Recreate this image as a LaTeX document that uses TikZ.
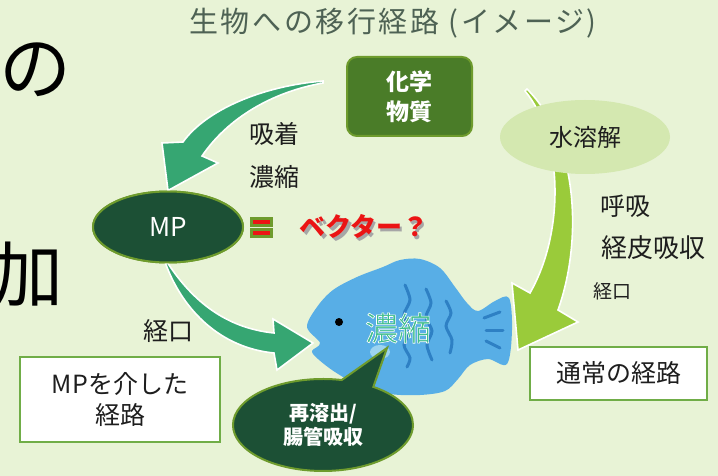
\documentclass[tikz,border=0pt]{standalone}
\usepackage{fontspec}
\setmainfont{Noto Sans CJK JP}
\usetikzlibrary{shapes.geometric,shapes.callouts}

\definecolor{bg}{RGB}{232,243,214}
\definecolor{titlegray}{RGB}{78,98,84}
\definecolor{olivebox}{RGB}{74,124,40}
\definecolor{oliveline}{RGB}{110,155,45}
\definecolor{darkgreen}{RGB}{28,80,53}
\definecolor{palegreen}{RGB}{212,232,176}
\definecolor{frame}{RGB}{112,173,71}
\definecolor{tealarrow}{RGB}{54,166,114}
\definecolor{limearrow}{RGB}{154,203,58}
\definecolor{fishblue}{RGB}{88,174,230}
\definecolor{stripe}{RGB}{46,128,196}
\definecolor{glow}{RGB}{156,212,240}
\definecolor{ink}{RGB}{30,30,30}
\definecolor{conc}{RGB}{64,190,140}
\definecolor{vecred}{RGB}{235,20,20}

\newcommand{\fsz}[1]{\fontsize{#1}{#1}\selectfont}
% glyphs filled in the current colour and stroked in white
\newcommand{\whiteedge}[1]{\special{pdf:code q 2 Tr 0.6 w 1 1 1 RG}#1\special{pdf:code Q}}
% text with a soft grey drop shadow behind it
\newcommand{\dropshadow}[1]{\makebox[0pt][l]{\hspace{2.5pt}\raisebox{-2.5pt}{\color{black!35}#1}}#1}

\begin{document}
\begin{tikzpicture}[x=1pt,y=-1pt,
  lbl/.style={text=ink, inner sep=0pt, font=\fsz{25}},
  small/.style={text=ink, inner sep=0pt, font=\fsz{19}},
  big/.style={text=black, inner sep=0pt, font=\fsz{72}},
  titletxt/.style={text=titlegray, inner sep=0pt, font=\fsz{29}\addfontfeature{LetterSpace=9}},
  chembox/.style={rectangle, rounded corners=10pt, fill=olivebox, draw=oliveline,
    line width=2pt, minimum width=125pt, minimum height=79pt, text=white,
    align=center, font=\fsz{23}\bfseries, execute at begin node=\setlength{\baselineskip}{30pt}},
  soluble/.style={ellipse, fill=palegreen, minimum width=170pt, minimum height=74pt,
    inner sep=0pt, text=ink, font=\fsz{24}},
  mpell/.style={ellipse, fill=darkgreen, draw=oliveline, line width=2pt,
    minimum width=150pt, minimum height=71pt, inner sep=0pt, text=white, font=\fsz{26}},
  routebox/.style={rectangle, fill=white, draw=frame, line width=2.5pt, text=ink,
    align=center, font=\fsz{25}, execute at begin node=\setlength{\baselineskip}{31pt}},
  bubble/.style={ellipse callout, fill=darkgreen, draw=oliveline, line width=2pt,
    minimum width=180pt, minimum height=92pt, inner sep=0pt, callout pointer arc=22,
    text=white, align=center, font=\fsz{20}\bfseries,
    execute at begin node=\setlength{\baselineskip}{24pt}},
  eqbar/.style={rectangle, fill=vecred, draw=oliveline, line width=2.2pt,
    minimum width=20pt, minimum height=7pt, inner sep=0pt},
  vec/.style={inner sep=0pt, font=\fsz{26}\bfseries, text=vecred},
  conctxt/.style={inner sep=0pt, font=\fsz{33}, text=conc},
  arrowA/.style={fill=tealarrow, draw=white, line width=1.6pt, line join=miter},
  arrowB/.style={fill=limearrow, draw=white, line width=1.6pt, line join=miter},
  stripeline/.style={draw=stripe, line width=3pt, line cap=round}
]
% canvas
\fill[bg] (0,0) rectangle (718,476);
\useasboundingbox (0,0) rectangle (718,476);

% title and large fragments at the left edge
\node[titletxt] (title) at (393,23) {生物への移行経路 (イメージ)};
\node[big] (no) at (35,70) {の};
\node[big] (ka) at (27,275) {加};

% lime arrow: chemical -> water -> fish (runs under the ellipse)
\coordinate (limetail) at (525,91);
\coordinate (limetip) at (518,350);
\path[arrowB] (limetail) .. controls (562,135) and (566,230) .. (530,293)
  -- (512,283) -- (limetip) -- (578,322) -- (558,310)
  .. controls (583,240) and (578,140) .. (527,89) -- cycle;

\node[soluble] (sol) at (585,137) {水溶解};
\node[chembox] (chem) at (409.5,96.5) {化学\\物質};

% fish
\path[fill=fishblue] plot[smooth cycle, tension=0.55] coordinates {
  (307,327) (317,307) (333,290) (357,277) (383,267) (400,260) (420,259)
  (440,268) (455,287) (467,303) (478,311) (495,301) (509,298) (512,330)
  (507,364) (488,359) (470,365) (458,379) (445,391) (420,395) (390,394)
  (360,386) (335,372) (318,359) (312,351) (320,343)};
\fill[glow] (380,352) ellipse (10pt and 7pt);
\path[stripeline] plot[smooth] coordinates {(405,285) (410,300) (404,315) (410,330) (404,345) (410,358) (407,367)};
\path[stripeline] plot[smooth] coordinates {(426,289) (431,303) (426,317) (432,331) (427,345) (432,360)};
\path[stripeline] plot[smooth] coordinates {(446,301) (451,313) (446,326) (452,340) (450,353)};
\path[stripeline] (484,318) -- (500,312);
\path[stripeline] (486,330) -- (503,330);
\path[stripeline] (486,341) -- (500,348);
\fill[black] (339,322) circle (4pt);
\node[conctxt] (conc) at (398,328) {\whiteedge{濃縮}};

% teal arrows: chemical -> MP, MP -> fish
\node[mpell] (mp) at (168,227) {};
\path[arrowA] (323,81) .. controls (262,86) and (206,110) .. (183,142)
  -- (162,143) -- (mp.north) -- (218,163) -- (202,156)
  .. controls (228,118) and (272,92) .. (323,83) -- cycle;
\path[arrowA] (mp.south) .. controls (192,300) and (225,328) .. (274,333)
  -- (273,319) -- (313,343) -- (277,370) -- (274,353)
  .. controls (222,348) and (183,312) .. (165,262) -- cycle;
\node[mpell] (mplabel) at (mp) {MP};

% speech bubble pointing into the fish
\node[bubble, callout absolute pointer={(387,348)}] (resol) at (323,425) {再溶出/\\腸管吸収};

% "MP = vector?"
\node[eqbar] (eq1) at (261.5,222) {};
\node[eqbar] (eq2) at (261.5,233) {};
\node[vec] (vector) at (364,228) {\dropshadow{ベクター？}};

% route labels
\node[lbl] (ads) at (274,134) {吸着};
\node[lbl] (con) at (274,177) {濃縮};
\node[lbl] (oral1) at (168,331) {経口};
\node[lbl] (resp) at (625,206) {呼吸};
\node[lbl, font=\fsz{26}] (derm) at (653,248) {経皮吸収};
\node[small] (oral2) at (612,291) {経口};

% route boxes
\node[routebox, minimum width=200pt, minimum height=85pt] (mproute) at (120,399.5) {MPを介した\\経路};
\node[routebox, minimum width=177pt, minimum height=53pt] (normal) at (618.5,373.5) {通常の経路};
\end{tikzpicture}
\end{document}
